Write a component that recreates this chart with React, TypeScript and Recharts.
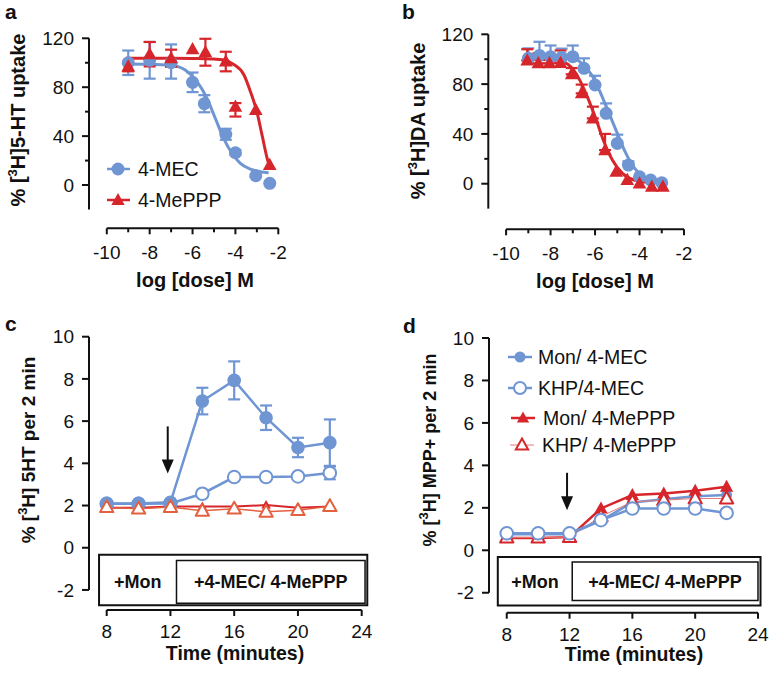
import React from 'react';
import {
  ComposedChart, Line, Scatter, XAxis, YAxis, ErrorBar,
  ReferenceLine, ReferenceArea, ReferenceDot,
} from 'recharts';

const BLUE = '#6f95d3';
const RED = '#d7262b';
const ORANGE = '#e4603e';
const PINK = '#e27a7a';
const INK = '#111';
const FONT = '"Liberation Sans", Arial, sans-serif';

// ---- panel a: [3H]5-HT uptake ----
const aMecPts = [
  { x: -9, y: 100, e: 10 }, { x: -8, y: 102, e: 15 }, { x: -7, y: 100, e: [13, 15] },
  { x: -6, y: 84, e: 8 }, { x: -5.45, y: 66.5, e: 7 }, { x: -4.45, y: 41.5, e: 4.5 },
  { x: -4, y: 26.4, e: 2 }, { x: -3.05, y: 7.6, e: 1 }, { x: -2.4, y: 1.4, e: 0 },
];
const aPppPts = [
  { x: -9, y: 97, e: 4 }, { x: -8, y: 107, e: 10 }, { x: -7, y: 103.7, e: 7 },
  { x: -6, y: 111, e: 0 }, { x: -5.4, y: 108.6, e: 11 }, { x: -4.45, y: 101, e: 8 },
  { x: -4, y: 64, e: [8, 3] }, { x: -3.05, y: 61.4, e: 0 }, { x: -2.4, y: 16.4, e: 0 },
];
const aMecFit = [
  { x: -9.1, y: 99 }, { x: -8, y: 98.8 }, { x: -7, y: 98 }, { x: -6.34, y: 94 },
  { x: -5.79, y: 84.5 }, { x: -5.33, y: 71 }, { x: -4.94, y: 54.6 }, { x: -4.55, y: 38.2 },
  { x: -4.16, y: 26 }, { x: -3.77, y: 17.7 }, { x: -3.3, y: 13 }, { x: -2.84, y: 10.9 },
  { x: -2.45, y: 10 },
];
const aPppFit = [
  { x: -9.1, y: 103.7 }, { x: -8, y: 103.7 }, { x: -7, y: 103.7 }, { x: -6, y: 103.5 },
  { x: -5, y: 103 }, { x: -4.6, y: 102.5 }, { x: -4.1, y: 98.8 }, { x: -3.6, y: 90 },
  { x: -3.3, y: 76.4 }, { x: -3.0, y: 60 }, { x: -2.76, y: 41 }, { x: -2.52, y: 21.8 },
  { x: -2.43, y: 16 },
];

// ---- panel b: [3H]DA uptake ----
const bMecPts = [
  { x: -9, y: 100.7, e: [0, 8] }, { x: -8.5, y: 103, e: [0, 11] }, { x: -8, y: 102, e: [0, 9] },
  { x: -7.5, y: 101.5, e: [0, 7] }, { x: -7, y: 102, e: [0, 9] }, { x: -6.5, y: 92.7, e: [0, 8] },
  { x: -6, y: 79.3, e: [0, 7.4] }, { x: -5.5, y: 56.5, e: [0, 8] }, { x: -5, y: 32.4, e: [0, 7] },
  { x: -4.5, y: 15, e: [0, 3] }, { x: -4, y: 5.6, e: 0 }, { x: -3.5, y: 3, e: 0 },
  { x: -3, y: 0.8, e: 0 },
];
const bPppPts = [
  { x: -9.05, y: 99, e: [0, 9] }, { x: -8.55, y: 96.7, e: [0, 8] }, { x: -8.05, y: 96.7, e: [0, 6] },
  { x: -7.55, y: 97, e: [0, 10] }, { x: -7.05, y: 87.9, e: [0, 5] }, { x: -6.6, y: 72.6, e: [0, 7] },
  { x: -6.1, y: 52.5, e: [0, 9.4] }, { x: -5.55, y: 27, e: [0, 13] }, { x: -5.05, y: 9.6, e: 0 },
  { x: -4.55, y: 3, e: 0 }, { x: -4, y: 0.3, e: 0 }, { x: -3.45, y: -2.4, e: 0 },
  { x: -2.95, y: -2.4, e: 0 },
];
const bMecFit = [
  { x: -9.2, y: 103.4 }, { x: -8, y: 103.2 }, { x: -7.1, y: 102 }, { x: -6.6, y: 96.7 },
  { x: -6.15, y: 87.3 }, { x: -5.78, y: 74 }, { x: -5.4, y: 57.8 }, { x: -5.03, y: 41.8 },
  { x: -4.65, y: 25.7 }, { x: -4.28, y: 13.7 }, { x: -3.83, y: 5.6 }, { x: -3.3, y: 2.5 },
  { x: -2.9, y: 2 },
];
const bPppFit = [
  { x: -9.2, y: 100 }, { x: -8, y: 99.6 }, { x: -7.72, y: 99.3 }, { x: -7.1, y: 94 },
  { x: -6.73, y: 84.6 }, { x: -6.35, y: 70 }, { x: -5.97, y: 52.5 }, { x: -5.6, y: 33.7 },
  { x: -5.22, y: 19 }, { x: -4.77, y: 8.3 }, { x: -4.25, y: 3 }, { x: -3.5, y: 1 },
  { x: -2.9, y: 0.5 },
];

const doseTicks = [-10, -9, -8, -7, -6, -5, -4, -3, -2];
const doseLabels = [-10, -8, -6, -4, -2];
const uptakeTicks = [0, 20, 40, 60, 80, 100, 120];
const uptakeLabels = [0, 40, 80, 120];

// ---- panels c, d: release time course ----
const time = [8, 10, 12, 14, 16, 18, 20, 22];
const cMonMec = [2.1, 2.1, 2.15, 6.95, 7.93, 6.16, 4.75, 4.98];
const cMonMecErr = [0, 0, 0, 0.63, 0.9, 0.58, 0.46, 1.1];
const cKhpMec = [2.08, 2.08, 2.1, 2.56, 3.35, 3.35, 3.38, 3.54];
const cKhpMecErr = [0, 0, 0, 0, 0, 0, 0, 0.3];
const cMonPpp = [1.9, 1.9, 1.95, 1.95, 1.95, 2.02, 1.9, 1.95];
const cKhpPpp = [1.92, 1.85, 1.93, 1.75, 1.85, 1.7, 1.78, 1.97];

const dMonMec = [0.75, 0.75, 0.75, 1.4, 2.25, 2.4, 2.55, 2.6];
const dKhpMec = [0.8, 0.8, 0.8, 1.42, 1.97, 1.97, 1.97, 1.76];
const dMonPpp = [0.58, 0.58, 0.62, 1.97, 2.6, 2.67, 2.8, 2.99];
const dKhpPpp = [0.6, 0.6, 0.62, 1.6, 2.28, 2.36, 2.44, 2.44];

const timeTicks = [8, 12, 16, 20, 24];
const releaseTicks = [-2, 0, 2, 4, 6, 8, 10];

const cRows = time.map((t, i) => ({
  t, monMec: cMonMec[i], monMecErr: cMonMecErr[i], khpMec: cKhpMec[i],
  khpMecErr: cKhpMecErr[i], monPpp: cMonPpp[i], khpPpp: cKhpPpp[i],
}));
const dRows = time.map((t, i) => ({
  t, monMec: dMonMec[i], khpMec: dKhpMec[i], monPpp: dMonPpp[i], khpPpp: dKhpPpp[i],
}));

// ---- marker shapes ----
const circle = (fill: string, stroke: string, r = 6, sw = 2) => (p: any) => (
  <circle key={`c${p.index}`} cx={p.cx} cy={p.cy} r={r} fill={fill} stroke={stroke} strokeWidth={sw} />
);
const triPath = (cx: number, cy: number, s: number) =>
  `M${cx},${cy - s}L${cx + s * 0.95},${cy + s * 0.7}L${cx - s * 0.95},${cy + s * 0.7}Z`;
const tri = (fill: string, stroke: string, s = 7, sw = 2) => (p: any) => (
  <path key={`t${p.index}`} d={triPath(p.cx, p.cy, s)} fill={fill} stroke={stroke} strokeWidth={sw} strokeLinejoin="round" />
);

// ---- Prism-like axis ticks ----
const xTick = (labels: number[], major: number, minor: number, dy: number) => (p: any) => {
  const v = p.payload.value;
  const lab = labels.includes(v);
  return (
    <g key={`x${v}`}>
      <line x1={p.x} x2={p.x} y1={p.y} y2={p.y + (lab ? major : minor)} stroke={INK} strokeWidth={2} />
      {lab && (
        <text x={p.x} y={p.y + dy} textAnchor="middle" fontSize={19} fontFamily={FONT} fill={INK}>{v}</text>
      )}
    </g>
  );
};
const yTick = (labels: number[], major: number, minor: number) => (p: any) => {
  const v = p.payload.value;
  const lab = labels.includes(v);
  return (
    <g key={`y${v}`}>
      <line x1={p.x - (lab ? major : minor)} x2={p.x} y1={p.y} y2={p.y} stroke={INK} strokeWidth={2} />
      {lab && (
        <text x={p.x - 15} y={p.y} dy="0.35em" textAnchor="end" fontSize={19} fontFamily={FONT} fill={INK}>{v}</text>
      )}
    </g>
  );
};

type DoseProps = {
  w: number; h: number; margin: any; xDom: [number, number]; yDom: [number, number];
  mecPts: any[]; pppPts: any[]; mecFit: any[]; pppFit: any[];
};

function DosePanel({ w, h, margin, xDom, yDom, mecPts, pppPts, mecFit, pppFit }: DoseProps) {
  return (
    <ComposedChart width={w} height={h} margin={margin}>
      <XAxis type="number" dataKey="x" domain={xDom} ticks={doseTicks} interval={0}
        axisLine={false} tickLine={false} tickSize={0} tickMargin={0} height={40}
        tick={xTick(doseLabels, 6, 4, 31)} />
      <YAxis type="number" dataKey="y" domain={yDom} ticks={uptakeTicks} interval={0}
        axisLine={false} tickLine={false} tickSize={0} tickMargin={0} width={50}
        tick={yTick(uptakeLabels, 7, 4)} />
      <ReferenceLine segment={[{ x: -10, y: yDom[0] }, { x: -2, y: yDom[0] }]} stroke={INK} strokeWidth={2} ifOverflow="visible" />
      <ReferenceLine segment={[{ x: xDom[0], y: -20 }, { x: xDom[0], y: 120 }]} stroke={INK} strokeWidth={2} ifOverflow="visible" />
      <Line data={mecFit} dataKey="y" type="monotone" dot={false} stroke={BLUE} strokeWidth={3} isAnimationActive={false} />
      <Scatter data={mecPts} dataKey="y" shape={circle(BLUE, BLUE, 6.5, 0)} isAnimationActive={false}>
        <ErrorBar dataKey="e" direction="y" width={6} stroke={BLUE} strokeWidth={2.2} />
      </Scatter>
      <Line data={pppFit} dataKey="y" type="monotone" dot={false} stroke={RED} strokeWidth={3} isAnimationActive={false} />
      <Scatter data={pppPts} dataKey="y" shape={tri(RED, RED, 7.2, 0)} isAnimationActive={false}>
        <ErrorBar dataKey="e" direction="y" width={6} stroke={RED} strokeWidth={2.2} />
      </Scatter>
    </ComposedChart>
  );
}

type TimeProps = {
  w: number; h: number; margin: any; xDom: [number, number]; yDom: [number, number];
  box: { x0: number; x1: number; xi: number; xr: number; y0: number; y1: number; yi0: number; yi1: number };
  arrow: { x: number; top: number; tip: number };
  children: React.ReactNode;
  rows: any[];
};

const boxLabel = (value: string) => ({
  value, position: 'center' as const, fontSize: 18, fontWeight: 700, fill: INK, fontFamily: FONT,
});

function TimePanel({ w, h, margin, xDom, yDom, box, arrow, children, rows }: TimeProps) {
  return (
    <ComposedChart width={w} height={h} margin={margin} data={rows}>
      <XAxis type="number" dataKey="t" domain={xDom} ticks={timeTicks} interval={0}
        axisLine={false} tickLine={false} tickSize={0} tickMargin={0} height={40}
        tick={xTick(timeTicks, 6, 6, 28)} />
      <YAxis type="number" domain={yDom} ticks={releaseTicks} interval={0}
        axisLine={false} tickLine={false} tickSize={0} tickMargin={0} width={50}
        tick={yTick(releaseTicks, 7, 7)} />
      <ReferenceLine segment={[{ x: 8, y: yDom[0] }, { x: 24, y: yDom[0] }]} stroke={INK} strokeWidth={2} ifOverflow="visible" />
      <ReferenceLine segment={[{ x: xDom[0], y: -2 }, { x: xDom[0], y: 10 }]} stroke={INK} strokeWidth={2} ifOverflow="visible" />
      <ReferenceArea x1={box.x0} x2={box.x1} y1={box.y0} y2={box.y1} fill="none" stroke={INK} strokeWidth={2} ifOverflow="visible" />
      <ReferenceArea x1={box.x0} x2={box.xi} y1={box.yi0} y2={box.yi1} fill="none" stroke="none" ifOverflow="visible" label={boxLabel('+Mon')} />
      <ReferenceArea x1={box.xi} x2={box.xr} y1={box.yi0} y2={box.yi1} fill="none" stroke={INK} strokeWidth={1.5} ifOverflow="visible" label={boxLabel('+4-MEC/ 4-MePPP')} />
      <ReferenceLine segment={[{ x: arrow.x, y: arrow.top }, { x: arrow.x, y: arrow.tip + 0.4 }]} stroke={INK} strokeWidth={2} ifOverflow="visible" />
      <ReferenceDot x={arrow.x} y={arrow.tip} r={1} ifOverflow="visible"
        shape={(p: any) => <path d={`M${p.cx},${p.cy}L${p.cx - 6},${p.cy - 14}L${p.cx + 6},${p.cy - 14}Z`} fill={INK} />} />
      {children}
    </ComposedChart>
  );
}

function Titles() {
  const bold = { fontFamily: FONT, fontWeight: 700, fill: INK } as const;
  const sup = (txt: string) => <tspan dy={-8} fontSize={13}>{txt}</tspan>;
  return (
    <svg width={774} height={677} style={{ position: 'absolute', left: 0, top: 0, pointerEvents: 'none' }}>
      <text x={5} y={19} fontSize={21} {...bold}>a</text>
      <text x={402} y={19} fontSize={21} {...bold}>b</text>
      <text x={5} y={331} fontSize={21} {...bold}>c</text>
      <text x={403} y={333} fontSize={21} {...bold}>d</text>

      <text transform="translate(25,120) rotate(-90)" textAnchor="middle" fontSize={20} {...bold}>
        % [{sup('3')}<tspan dy={8}>H]5-HT uptake</tspan>
      </text>
      <text transform="translate(425,121) rotate(-90)" textAnchor="middle" fontSize={20} {...bold}>
        % [{sup('3')}<tspan dy={8}>H]DA uptake</tspan>
      </text>
      <text transform="translate(35,450) rotate(-90)" textAnchor="middle" fontSize={19} {...bold}>
        % [{sup('3')}<tspan dy={8}>H] 5HT per 2 min</tspan>
      </text>
      <text transform="translate(436,450) rotate(-90)" textAnchor="middle" fontSize={18} {...bold}>
        % [{sup('3')}<tspan dy={8}>H] MPP+ per 2 min</tspan>
      </text>

      <text x={195} y={287} textAnchor="middle" fontSize={20} {...bold}>log [dose] M</text>
      <text x={595} y={288} textAnchor="middle" fontSize={20} {...bold}>log [dose] M</text>
      <text x={235} y={660} textAnchor="middle" fontSize={19.5} {...bold}>Time (minutes)</text>
      <text x={634} y={661} textAnchor="middle" fontSize={19.5} {...bold}>Time (minutes)</text>

      {/* legend a */}
      <line x1={107} x2={130} y1={169} y2={169} stroke={BLUE} strokeWidth={2.5} />
      <circle cx={118} cy={169} r={6.5} fill={BLUE} />
      <text x={138} y={176} fontSize={19.5} fontFamily={FONT} fill={INK}>4-MEC</text>
      <line x1={107} x2={130} y1={200} y2={200} stroke={RED} strokeWidth={2.5} />
      <path d={triPath(118, 200, 7)} fill={RED} />
      <text x={138} y={207} fontSize={19.5} fontFamily={FONT} fill={INK}>4-MePPP</text>

      {/* legend d */}
      <line x1={508} x2={532} y1={357} y2={357} stroke={BLUE} strokeWidth={2.5} />
      <circle cx={520} cy={357} r={5.5} fill={BLUE} />
      <text x={538} y={364} fontSize={19.5} fontFamily={FONT} fill={INK}>Mon/ 4-MEC</text>
      <line x1={508} x2={532} y1={388} y2={388} stroke={BLUE} strokeWidth={2.5} />
      <circle cx={520} cy={388} r={6} fill="#fff" stroke={BLUE} strokeWidth={2} />
      <text x={538} y={395} fontSize={19.5} fontFamily={FONT} fill={INK}>KHP/4-MEC</text>
      <line x1={511} x2={535} y1={418} y2={418} stroke={RED} strokeWidth={2.5} />
      <path d={triPath(523, 418, 6.5)} fill={RED} />
      <text x={543} y={425} fontSize={19.5} fontFamily={FONT} fill={INK}>Mon/ 4-MePPP</text>
      <line x1={510} x2={534} y1={445} y2={445} stroke={PINK} strokeWidth={1} />
      <path d={triPath(522, 445, 6.5)} fill="#fff" stroke={RED} strokeWidth={2} />
      <text x={542} y={452} fontSize={19.5} fontFamily={FONT} fill={INK}>KHP/ 4-MePPP</text>
    </svg>
  );
}

export default function App() {
  const pos = (left: number, top: number) => ({ position: 'absolute' as const, left, top });
  return (
    <div style={{ position: 'absolute', left: 0, top: 0, width: 774, height: 677, background: '#fff', fontFamily: FONT }}>
      <div style={pos(0, 0)}>
        <DosePanel w={390} h={300} margin={{ top: 38.3, right: 111.7, bottom: 31.7, left: 39 }}
          xDom={[-10.83, -2]} yDom={[-35.4, 120]}
          mecPts={aMecPts} pppPts={aPppPts} mecFit={aMecFit} pppFit={aPppFit} />
      </div>
      <div style={pos(390, 0)}>
        <DosePanel w={384} h={300} margin={{ top: 34.3, right: 90, bottom: 30.7, left: 48.3 }}
          xDom={[-10.8, -2]} yDom={[-36.6, 120]}
          mecPts={bMecPts} pppPts={bPppPts} mecFit={bMecFit} pppFit={bPppFit} />
      </div>
      <div style={pos(0, 310)}>
        <TimePanel w={390} h={367} margin={{ top: 26.7, right: 28.3, bottom: 27, left: 39 }}
          xDom={[6.89, 24]} yDom={[-2.95, 10]} rows={cRows}
          box={{ x0: 7.52, x1: 24.35, xi: 12.38, xr: 24.21, y0: -0.33, y1: -2.73, yi0: -0.6, yi1: -2.63 }}
          arrow={{ x: 11.83, top: 5.75, tip: 3.52 }}>
          <Line dataKey="khpMec" stroke={BLUE} strokeWidth={2.5} dot={circle('#fff', BLUE, 6.3, 2)} isAnimationActive={false}>
            <ErrorBar dataKey="khpMecErr" width={6} stroke={BLUE} strokeWidth={2} />
          </Line>
          <Line dataKey="monMec" stroke={BLUE} strokeWidth={2.5} dot={circle(BLUE, BLUE, 6.8, 0)} isAnimationActive={false}>
            <ErrorBar dataKey="monMecErr" width={6} stroke={BLUE} strokeWidth={2.2} />
          </Line>
          <Line dataKey="monPpp" stroke={RED} strokeWidth={2} dot={tri(RED, RED, 5, 0)} isAnimationActive={false} />
          <Line dataKey="khpPpp" stroke={ORANGE} strokeWidth={1.5} dot={tri('#fff', ORANGE, 7, 2)} isAnimationActive={false} />
        </TimePanel>
      </div>
      <div style={pos(390, 310)}>
        <TimePanel w={384} h={367} margin={{ top: 28, right: 16, bottom: 24.3, left: 49 }}
          xDom={[6.87, 24]} yDom={[-2.94, 10]} rows={dRows}
          box={{ x0: 7.43, x1: 24.16, xi: 12.17, xr: 24.0, y0: -0.32, y1: -2.6, yi0: -0.55, yi1: -2.36 }}
          arrow={{ x: 11.84, top: 3.65, tip: 1.89 }}>
          <Line dataKey="monMec" stroke={BLUE} strokeWidth={2.5} dot={circle(BLUE, BLUE, 5.5, 0)} isAnimationActive={false} />
          <Line dataKey="monPpp" stroke={RED} strokeWidth={2.5} dot={tri(RED, RED, 7, 0)} isAnimationActive={false} />
          <Line dataKey="khpPpp" stroke={PINK} strokeWidth={1} dot={tri('#fff', RED, 7, 2)} isAnimationActive={false} />
          <Line dataKey="khpMec" stroke={BLUE} strokeWidth={2.5} dot={circle('#fff', BLUE, 6.3, 2)} isAnimationActive={false} />
        </TimePanel>
      </div>
      <Titles />
    </div>
  );
}
